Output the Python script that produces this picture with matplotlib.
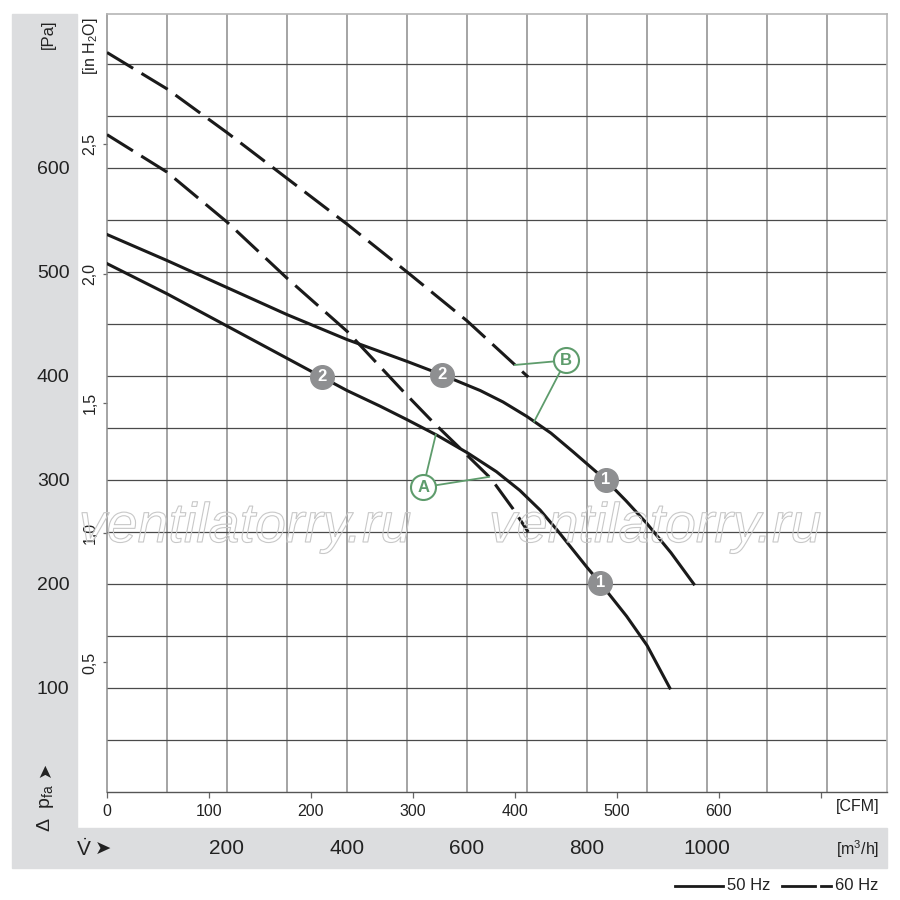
import numpy as np
import matplotlib
matplotlib.use("Agg")
import matplotlib.pyplot as plt
from matplotlib import font_manager as fm
from matplotlib import patheffects as pe
from matplotlib.patches import Rectangle
from matplotlib.lines import Line2D
import matplotlib.transforms as mtransforms

# ---------------- data (x in m3/h, y in Pa) ----------------
b50_x = [0, 100, 200, 300, 400, 500, 559, 622, 660, 700, 740, 777, 831, 865, 900, 940, 978]
b50_y = [536, 511, 485, 459, 435, 414, 401, 386, 375, 361, 345, 327, 300, 280, 258, 230, 200]

a50_x = [0, 100, 200, 300, 358, 400, 455, 500, 550, 601, 649, 688, 722, 750, 800, 822, 866, 900, 938]
a50_y = [508, 479, 448, 417, 399, 386, 371, 358, 343, 326, 308, 290, 271, 252, 216, 201, 169, 141, 100]

b60_x = [0, 100, 200, 300, 400, 500, 600, 700, 702]
b60_y = [711, 676, 634, 590, 546, 500, 453, 400, 399]

a60_x = [0, 100, 200, 300, 400, 494, 541, 591, 637, 648, 677, 702]
a60_y = [632, 596, 548, 494, 443, 385, 357, 329, 303, 295, 272, 250]

# operating point markers (x position on curve, label)
b50_marks_x = [559, 831]
b50_marks_lbl = ["2", "1"]
a50_marks_x = [358, 822]
a50_marks_lbl = ["2", "1"]

# curve group labels
grp_A_pos = (527, 293)
grp_A_targets_50 = [548]
grp_A_targets_60 = [637]
grp_B_pos = (765, 415)
grp_B_targets_50 = [712]
grp_B_targets_60 = [680]

pa_ticks = [100, 200, 300, 400, 500, 600]
inh2o_ticks = [0.5, 1.0, 1.5, 2.0, 2.5]
inh2o_labels = ["0,5", "1,0", "1,5", "2,0", "2,5"]
cfm_ticks = [0, 100, 200, 300, 400, 500, 600, 700]
cfm_labels = ["0", "100", "200", "300", "400", "500", "600", ""]
m3h_labels = [200, 400, 600, 800, 1000]

PA_PER_INH2O = 249.089
M3H_PER_CFM = 1.69901

# ---------------- fonts ----------------
names = {f.name for f in fm.fontManager.ttflist}
NARROW = "Liberation Sans Narrow" if "Liberation Sans Narrow" in names else "Liberation Sans"
REG = "Liberation Sans"
plt.rcParams["font.family"] = [NARROW, "DejaVu Sans"]
plt.rcParams["mathtext.fontset"] = "custom"
plt.rcParams["mathtext.rm"] = NARROW
plt.rcParams["mathtext.it"] = NARROW + ":italic"
plt.rcParams["mathtext.bf"] = NARROW + ":bold"

TXT = "#222222"
GREEN = "#5e9c6c"
MGRAY = "#8e8f91"
BAND = "#dcdddf"

fig = plt.figure(figsize=(9, 9), dpi=100)
W = H = 900.0

def fx(px):
    return px / W

def fy(py):
    return 1 - py / H

# gray bands (behind everything)
fig.patches.append(Rectangle((fx(12), fy(868)), fx(887) - fx(12), fy(828) - fy(868),
                             transform=fig.transFigure, color=BAND, zorder=-5))
fig.patches.append(Rectangle((fx(12), fy(828)), fx(77) - fx(12), fy(14) - fy(828),
                             transform=fig.transFigure, color=BAND, zorder=-5))

ax = fig.add_axes([fx(107), fy(792), fx(887) - fx(107), fy(14) - fy(792)])
ax.set_xlim(0, 1300)
ax.set_ylim(0, 748)

# grid
for gx in np.arange(100, 1300, 100):
    ax.axvline(gx, color="#8c8c8c", lw=1.1, zorder=1)
for gy in np.arange(50, 748, 50):
    ax.axhline(gy, color="#4a4a4a", lw=0.9, zorder=1)

for s in ["top", "right"]:
    ax.spines[s].set_color("#b5b5b5")
    ax.spines[s].set_linewidth(1.2)
ax.spines["left"].set_color("#8c8c8c")
ax.spines["left"].set_linewidth(1.1)
ax.spines["bottom"].set_color("#555555")
ax.spines["bottom"].set_linewidth(1.0)

# Pa ticks (main y axis)
ax.set_yticks(pa_ticks)
ax.set_yticklabels([str(v) for v in pa_ticks], fontsize=14, family=REG, color=TXT)
ax.tick_params(axis="y", length=0, pad=27)

# CFM ticks
ax.set_xticks([c * M3H_PER_CFM for c in cfm_ticks])
ax.set_xticklabels(cfm_labels, fontsize=11.5, color=TXT)
ax.tick_params(axis="x", direction="out", length=4, width=0.9, color="#666666", pad=5)

# inH2O secondary axis
sec = ax.secondary_yaxis("left", functions=(lambda p: p / PA_PER_INH2O, lambda h: h * PA_PER_INH2O))
sec.set_yticks(inh2o_ticks)
sec.set_yticklabels(inh2o_labels, rotation=90, va="center", fontsize=11.5, color=TXT)
sec.tick_params(axis="y", direction="out", length=3, width=0.9, color="#666666", pad=4)
sec.spines["left"].set_visible(False)

# curves
LW = 2.2
ax.plot(b50_x, b50_y, color="#1a1a1a", lw=LW, zorder=4, solid_joinstyle="round")
ax.plot(a50_x, a50_y, color="#1a1a1a", lw=LW, zorder=4, solid_joinstyle="round")
ax.plot(b60_x, b60_y, color="#1a1a1a", lw=LW, zorder=4, dashes=(10, 3.2), dash_capstyle="butt")
ax.plot(a60_x, a60_y, color="#1a1a1a", lw=LW, zorder=4, dashes=(10, 3.2), dash_capstyle="butt")

# operating point markers
def marks(cx, cy, mx, lbls):
    for x, l in zip(mx, lbls):
        y = np.interp(x, cx, cy)
        ax.plot([x], [y], "o", ms=17, color=MGRAY, mec=MGRAY, zorder=6)
        ax.text(x, y, l, ha="center", va="center", color="white", fontsize=12,
                fontweight="bold", zorder=7)

marks(b50_x, b50_y, b50_marks_x, b50_marks_lbl)
marks(a50_x, a50_y, a50_marks_x, a50_marks_lbl)

# group labels A / B with leaders
def group(pos, lbl, t50, t60, c50, c60):
    for x in t50:
        ax.plot([pos[0], x], [pos[1], np.interp(x, c50[0], c50[1])], color=GREEN, lw=1.3, zorder=5)
    for x in t60:
        ax.plot([pos[0], x], [pos[1], np.interp(x, c60[0], c60[1])], color=GREEN, lw=1.3, zorder=5)
    ax.plot([pos[0]], [pos[1]], "o", ms=18, mfc="white", mec=GREEN, mew=1.5, zorder=6)
    ax.text(pos[0], pos[1], lbl, ha="center", va="center", color=GREEN, fontsize=12,
            fontweight="bold", zorder=7)

group(grp_A_pos, "A", grp_A_targets_50, grp_A_targets_60, (a50_x, a50_y), (a60_x, a60_y))
group(grp_B_pos, "B", grp_B_targets_50, grp_B_targets_60, (b50_x, b50_y), (b60_x, b60_y))

# watermark
for cxp in (245, 655):
    fig.text(fx(cxp), fy(528), "ventilatorry.ru", ha="center", va="center", fontsize=40,
             style="italic", family=REG, color="none", zorder=3,
             path_effects=[pe.Stroke(linewidth=0.8, foreground="#c8c8c8")])

# axis unit labels
fig.text(fx(48), fy(34), "[Pa]", rotation=90, ha="center", va="center", fontsize=12, color=TXT)
fig.text(fx(90), fy(46), "[in H$_2$O]", rotation=90, ha="center", va="center", fontsize=11.5, color=TXT)
fig.text(fx(858), fy(806), "[CFM]", ha="center", va="center", fontsize=11.5, color=TXT)
fig.text(fx(858), fy(849), "[m$^3$/h]", ha="center", va="center", fontsize=11.5, color=TXT)

fig.text(fx(45), fy(808), r"$\Delta$  p$_{\rm fa}$", rotation=90, ha="center", va="center",
         fontsize=14, color=TXT)
fig.text(fx(45), fy(769), "➤", rotation=90, ha="center", va="center",
         fontsize=13, color=TXT, family="DejaVu Sans")
fig.text(fx(84), fy(849), r"$\dot{\rm V}$", ha="center", va="center",
         fontsize=15, color=TXT)
fig.text(fx(103), fy(849), "➤", ha="center", va="center",
         fontsize=14, color=TXT, family="DejaVu Sans")

# m3/h labels in the band
blend = mtransforms.blended_transform_factory(ax.transData, fig.transFigure)
for v in m3h_labels:
    ax.text(v, fy(849), str(v), transform=blend, ha="center", va="center", fontsize=15,
            color=TXT, clip_on=False)

# legend
fig.lines.append(Line2D([fx(675), fx(723)], [fy(886), fy(886)], transform=fig.transFigure,
                        color="#1a1a1a", lw=2))
fig.text(fx(727), fy(886), "50 Hz", ha="left", va="center", fontsize=12, color=TXT)
fig.lines.append(Line2D([fx(782), fx(815)], [fy(886), fy(886)], transform=fig.transFigure,
                        color="#1a1a1a", lw=2))
fig.lines.append(Line2D([fx(821), fx(831)], [fy(886), fy(886)], transform=fig.transFigure,
                        color="#1a1a1a", lw=2))
fig.text(fx(835), fy(886), "60 Hz", ha="left", va="center", fontsize=12, color=TXT)

fig.savefig("out.png", dpi=100)
